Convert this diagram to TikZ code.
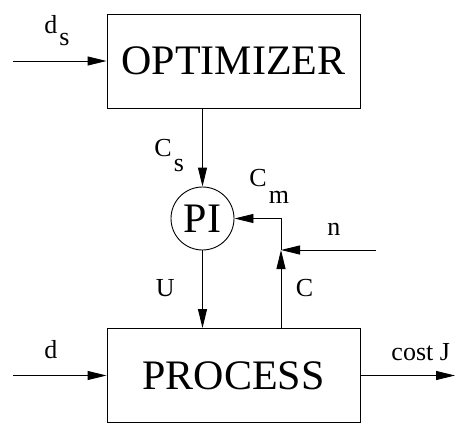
\documentclass[tikz,border=0pt]{standalone}
\usepackage{fontspec}
\setmainfont{Liberation Serif}
\usetikzlibrary{arrows.meta,positioning}
\newcommand{\lowsub}[2]{\hspace{2pt}\raisebox{-#1}{#2}}

\begin{document}
\begin{tikzpicture}[x=1pt,y=-1pt,line width=0.9pt,
    block/.style={draw, minimum width=253pt, minimum height=94pt, inner sep=0pt,
      font=\fontsize{42}{48}\selectfont},
    ctrl/.style={draw, circle, minimum size=63pt, inner sep=0pt,
      font=\fontsize{42}{48}\selectfont},
    sig/.style={anchor=base west, inner sep=0pt, font=\fontsize{26}{30}\selectfont},
    >={Triangle[length=19pt,width=9pt]}]
    \useasboundingbox (0,0) rectangle (462,425);
    % blocks
    \node[block] (opt) at (233.5,61) {OPTIMIZER};
    \node[block] (proc) at (233.5,375.5) {PROCESS};
    \node[ctrl] (pi) at (202.5,218.5) {PI};
    % free ends
    \coordinate (dsin) at (13,61);
    \coordinate (din) at (13,375.5);
    \coordinate (jout) at (455,375.5);
    \coordinate (nin) at (376,250);
    \coordinate (sum) at (281,250);
    % signals
    \draw[->] (dsin) -- (opt.west);
    \draw[->] (pi |- opt.south) -- (pi.north);
    \draw[->] (pi.south) -- (pi |- proc.north);
    \draw[->] (sum |- proc.north) -- (sum);
    \draw[->] (sum) |- (pi.east);
    \draw[->] (nin) -- (sum);
    \draw[->] (din) -- (proc.west);
    \draw[->] (proc.east) -- (jout);
    % labels
    \node[sig] (lds) at (44,33.3) {d\lowsub{12.4pt}{s}};
    \node[sig] (lcs) at (154,156.7) {C\lowsub{15pt}{s}};
    \node[sig] (lcm) at (249,186.5) {C\lowsub{16.7pt}{m}};
    \node[sig] (lu) at (155.5,296.7) {U};
    \node[sig] (lc) at (295.5,296.5) {C};
    \node[sig] (ln) at (327,235) {n};
    \node[sig] (ld) at (44,358.3) {d};
    \node[sig] (lj) at (391,360) {cost J};
\end{tikzpicture}
\end{document}
